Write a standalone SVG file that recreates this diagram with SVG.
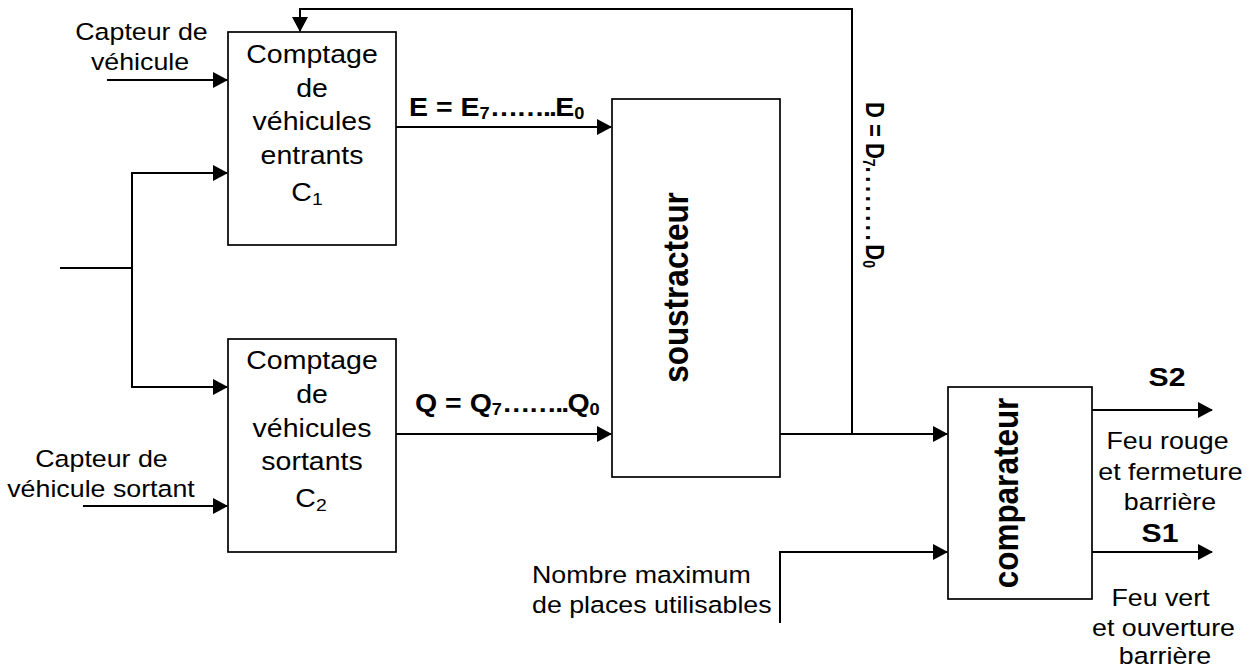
<svg xmlns="http://www.w3.org/2000/svg" width="1251" height="670" viewBox="0 0 1251 670">
<style>
.box{fill:#fff;stroke:#000;stroke-width:1.7}
.ln{fill:none;stroke:#000;stroke-width:2}
.t{font-family:"Liberation Sans",Arial,sans-serif;font-size:23.5px;fill:#000}
.tb{font-family:"Liberation Sans",Arial,sans-serif;font-size:25px;fill:#000}
.b{font-family:"Liberation Sans",Arial,sans-serif;font-weight:bold;fill:#000}
.m{text-anchor:middle}
</style>
<defs>
<marker id="arr" viewBox="0 0 15 16" refX="14" refY="8" markerWidth="15" markerHeight="16" markerUnits="userSpaceOnUse" orient="auto">
<path d="M0,0 L15,8 L0,16 z" fill="#000"/>
</marker>
</defs>
<rect width="1251" height="670" fill="#fff"/>
<g id="connectors">
<path class="ln" d="M107,80 H227" marker-end="url(#arr)"/>
<path class="ln" d="M60,268 H132"/>
<path class="ln" d="M132,268 V173 H227" marker-end="url(#arr)"/>
<path class="ln" d="M132,268 V387 H227" marker-end="url(#arr)"/>
<path class="ln" d="M83,506 H227" marker-end="url(#arr)"/>
<path class="ln" d="M396,127 H611" marker-end="url(#arr)"/>
<path class="ln" d="M396,434 H611" marker-end="url(#arr)"/>
<path class="ln" d="M780,434 H947" marker-end="url(#arr)"/>
<path class="ln" d="M852,434 V9 H300 V31" marker-end="url(#arr)"/>
<path class="ln" d="M780,623 V552 H947" marker-end="url(#arr)"/>
<path class="ln" d="M1092,410 H1212" marker-end="url(#arr)"/>
<path class="ln" d="M1092,552 H1212" marker-end="url(#arr)"/>
</g>
<g id="c1">
<rect class="box" x="228" y="32" width="168" height="213"/>
<text class="tb m" transform="translate(312,63) scale(1.14,1)">Comptage</text>
<text class="tb m" transform="translate(312,97) scale(1.14,1)">de</text>
<text class="tb m" transform="translate(312,130) scale(1.14,1)">véhicules</text>
<text class="tb m" transform="translate(312,164) scale(1.14,1)">entrants</text>
<text class="tb m" transform="translate(307,201) scale(1.14,1)">C<tspan font-size="17" dy="4">1</tspan></text>
</g>
<g id="c2">
<rect class="box" x="228" y="339" width="168" height="213"/>
<text class="tb m" transform="translate(312,369) scale(1.14,1)">Comptage</text>
<text class="tb m" transform="translate(312,403) scale(1.14,1)">de</text>
<text class="tb m" transform="translate(312,437) scale(1.14,1)">véhicules</text>
<text class="tb m" transform="translate(312,470) scale(1.14,1)">sortants</text>
<text class="tb m" transform="translate(311,507) scale(1.14,1)">C<tspan font-size="17" dy="4">2</tspan></text>
</g>
<g id="soustracteur">
<rect class="box" x="612" y="99" width="168" height="378"/>
<text class="b m" font-size="31.5" transform="translate(688,287.5) scale(1.14,1) rotate(-90)">soustracteur</text>
</g>
<g id="comparateur">
<rect class="box" x="948" y="387" width="144" height="212"/>
<text class="b m" font-size="31.5" transform="translate(1018,493) scale(1.14,1) rotate(-90)">comparateur</text>
</g>
<g id="labels">
<text class="t m" transform="translate(141.5,40) scale(1.14,1)">Capteur de</text>
<text class="t m" transform="translate(140,70) scale(1.14,1)">véhicule</text>
<text class="t m" transform="translate(101.5,467) scale(1.14,1)">Capteur de</text>
<text class="t m" transform="translate(101,497) scale(1.14,1)">véhicule sortant</text>
<text class="b" font-size="25" transform="translate(409,116) scale(1.14,1)">E = E<tspan font-size="16" dy="3">7</tspan><tspan dy="-3" letter-spacing="-1.6">……..</tspan>E<tspan font-size="16" dy="3">0</tspan></text>
<text class="b" font-size="25" transform="translate(415,412) scale(1.14,1)">Q = Q<tspan font-size="16" dy="3">7</tspan><tspan dy="-3" letter-spacing="-1.6">……..</tspan>Q<tspan font-size="16" dy="3">0</tspan></text>
<text class="b" font-size="22" transform="translate(866,102) scale(1.14,1) rotate(90)">D = D<tspan font-size="14" dy="3">7</tspan><tspan dy="-3" letter-spacing="3.6">........</tspan>D<tspan font-size="14" dy="3">0</tspan></text>
<text class="t" transform="translate(532,583) scale(1.14,1)">Nombre maximum</text>
<text class="t" transform="translate(532,613) scale(1.14,1)">de places utilisables</text>
<text class="b m" font-size="26.5" transform="translate(1167,386) scale(1.14,1)">S2</text>
<text class="t m" transform="translate(1167.5,449) scale(1.14,1)">Feu rouge</text>
<text class="t m" transform="translate(1170.5,480) scale(1.14,1)">et fermeture</text>
<text class="t m" transform="translate(1170,510) scale(1.14,1)">barrière</text>
<text class="b m" font-size="26.5" transform="translate(1160,542) scale(1.14,1)">S1</text>
<text class="t m" transform="translate(1160.5,606) scale(1.14,1)">Feu vert</text>
<text class="t m" transform="translate(1163.5,636) scale(1.14,1)">et ouverture</text>
<text class="t m" transform="translate(1165,664) scale(1.14,1)">barrière</text>
</g>
</svg>
